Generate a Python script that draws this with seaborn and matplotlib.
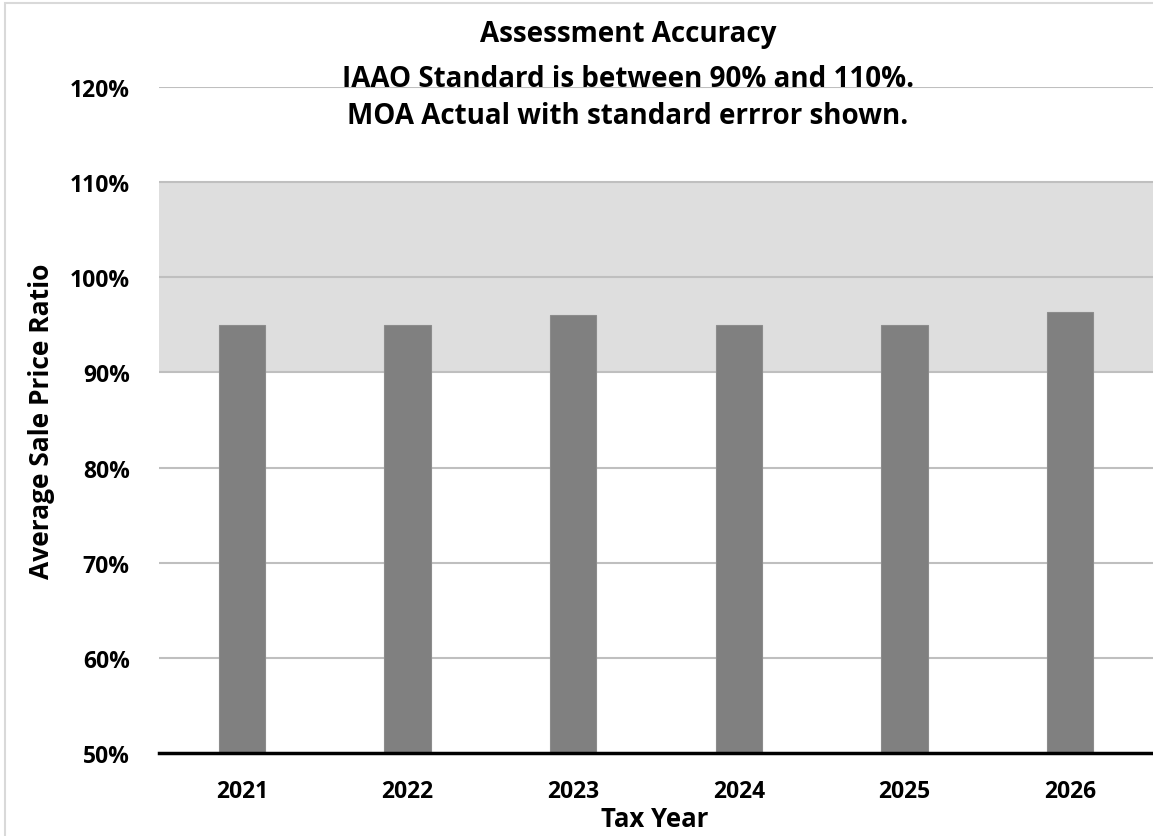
import numpy as np
import pandas as pd
import seaborn as sns
import matplotlib.pyplot as plt
from matplotlib.patches import Rectangle

# ========== 数据 ==========
years = ['2021', '2022', '2023', '2024', '2025', '2026']
ratio = [0.950, 0.950, 0.960, 0.950, 0.950, 0.964]
band_low, band_high = 0.90, 1.10
y_ticks = [0.5, 0.6, 0.7, 0.8, 0.9, 1.0, 1.1, 1.2]
y_tick_labels = ['50%', '60%', '70%', '80%', '90%', '100%', '110%', '120%']
title_lines = ['Assessment Accuracy',
               'IAAO Standard is between 90% and 110%.',
               'MOA Actual with standard errror shown.']

df = pd.DataFrame({'year': years, 'ratio': ratio})

sns.set_style('white')
plt.rcParams['font.family'] = ['Open Sans', 'DejaVu Sans']
plt.rcParams['font.weight'] = 'bold'
plt.rcParams['text.color'] = 'black'
plt.rcParams['axes.labelcolor'] = 'black'
plt.rcParams['xtick.color'] = 'black'
plt.rcParams['ytick.color'] = 'black'

fig = plt.figure(figsize=(11.53, 8.37), dpi=100)
W, H = 1153, 837
ax_l, ax_r, ax_t, ax_b = 159, 1153, 88, 754
ax = fig.add_axes([ax_l / W, (H - ax_b) / H, (ax_r - ax_l) / W, (ax_b - ax_t) / H])

# 外框
fig.patches.append(Rectangle((5 / W, -0.1), 1.2, 1 - 4 / H + 0.1, transform=fig.transFigure,
                             fill=False, edgecolor='#d9d9d9', linewidth=1.5))

# 标准区间 90%-110%
ax.axhspan(band_low, band_high, color='#dedede', zorder=0, linewidth=0)
for t in y_ticks[1:]:
    ax.axhline(t, color='#bfbfbf', linewidth=1.5, zorder=1)

sns.barplot(data=df, x='year', y='ratio', color='#808080', width=0.28,
            saturation=1, ax=ax, zorder=3, edgecolor='#8c8c8c', linewidth=0.8)

ax.set_ylim(0.5, 1.2)
ax.set_yticks(y_ticks)
ax.set_yticklabels(y_tick_labels)
ax.set_xlim(-0.5, 5.5)
for s in ['top', 'right', 'left']:
    ax.spines[s].set_visible(False)
ax.spines['bottom'].set_color('black')
ax.spines['bottom'].set_linewidth(2.5)
ax.spines['bottom'].set_zorder(5)
ax.tick_params(axis='both', length=0, labelsize=16.5)
ax.tick_params(axis='y', pad=21)
ax.tick_params(axis='x', pad=19)
for lab in ax.get_xticklabels() + ax.get_yticklabels():
    lab.set_fontweight('bold')

ax.set_xlabel('Tax Year', fontsize=18.5, fontweight='bold')
ax.xaxis.label.set_va('baseline')
ax.xaxis.set_label_coords((655 - ax_l) / (ax_r - ax_l), -(827 - ax_b) / (ax_b - ax_t))
ax.set_ylabel('Average Sale Price Ratio', fontsize=19, fontweight='bold')
ax.yaxis.label.set_va('center')
ax.yaxis.set_label_coords((42 - ax_l) / (ax_r - ax_l), 0.5)

title_y = [42, 87, 124]
for line, yy in zip(title_lines, title_y):
    fig.text(628 / W, 1 - yy / H, line, ha='center', va='baseline',
             fontsize=20, fontweight='bold')

plt.savefig('out.png', dpi=100)
plt.close()
